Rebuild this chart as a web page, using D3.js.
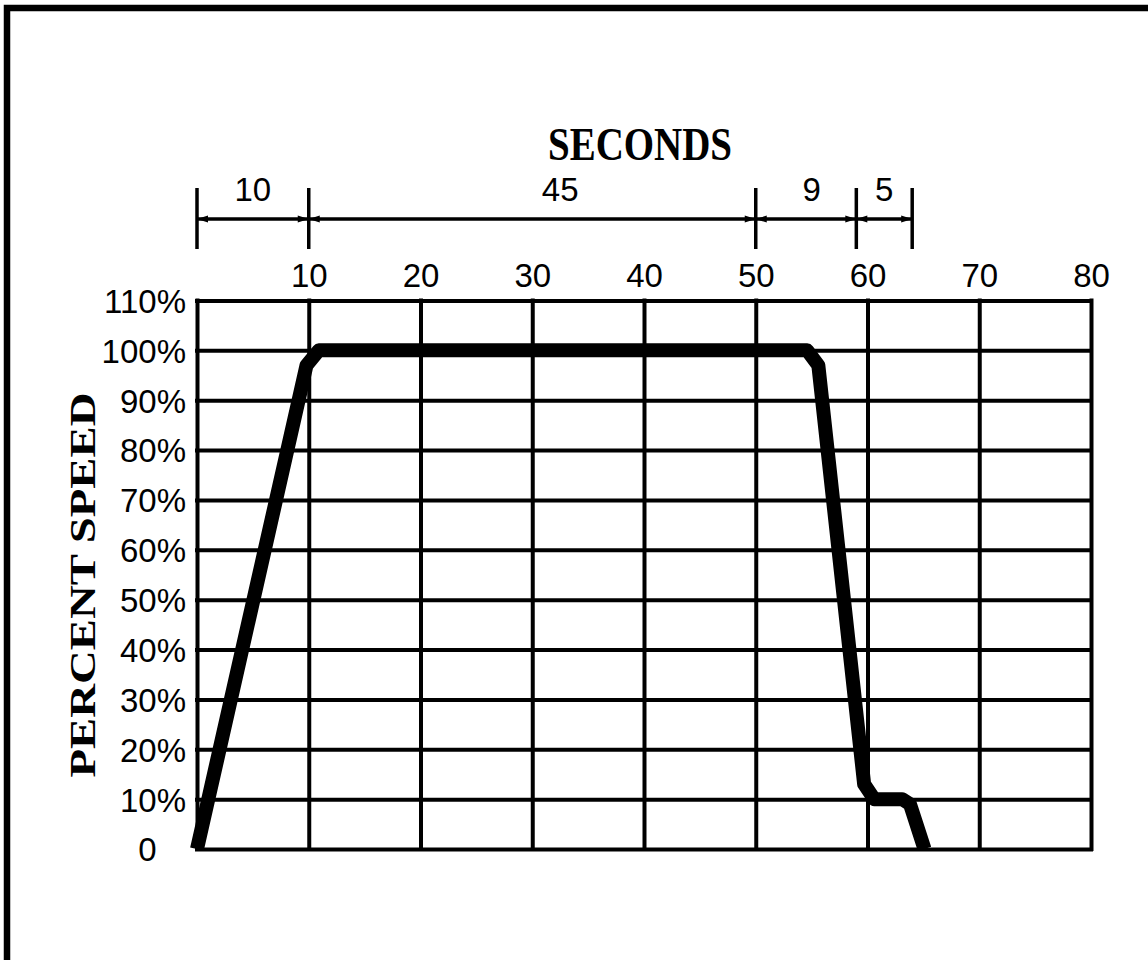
<!DOCTYPE html>
<html>
<head>
<meta charset="utf-8">
<script src="https://cdn.jsdelivr.net/npm/d3@7"></script>
<style>
body{margin:0;background:#fff;}
svg{display:block;}
</style>
</head>
<body>
<div id="chart"></div>
<script>
// speed profile
var time_s = [0, 9.8, 10.9, 54.6, 55.6, 59.7, 60.6, 63.1, 63.8, 65.1]
var speed_pct = [0, 97, 100, 100, 97, 13, 10, 10, 9, 0]

var x_ticks = [0, 10, 20, 30, 40, 50, 60, 70, 80]
var y_ticks = [0, 10, 20, 30, 40, 50, 60, 70, 80, 90, 100, 110]

// dimension line above the grid
var dim_breaks = [0, 10, 50, 59, 64]
var dim_labels = ["10", "45", "9", "5"]
var dim_label_at = [5, 32.5, 55, 61.5]

var W = 1148, H = 960
var svg = d3.select("#chart").append("svg")
	.attr("width", W)
	.attr("height", H)

var x = d3.scaleLinear().domain([0, 80]).range([197, 1091])
var y = d3.scaleLinear().domain([0, 110]).range([849, 300.5])
var plotW = x(80) - x(0), plotH = y(0) - y(110)

var tickFont = "'Liberation Sans', Arial, sans-serif"
var titleFont = "'Liberation Serif', 'Times New Roman', serif"

// frame (only top/left edges fall inside the picture)
svg.append("rect")
	.attr("x", 7).attr("y", 8)
	.attr("width", 1300).attr("height", 1100)
	.attr("fill", "none")
	.attr("stroke", "#000")
	.attr("stroke-width", 6.5)

function style_axis(g){
	g.select(".domain").remove()
	g.selectAll(".tick line")
		.attr("stroke", "#000")
		.attr("stroke-width", 4)
		.attr("stroke-linecap", "square")
	g.selectAll(".tick text")
		.attr("fill", "#000")
		.attr("font-family", tickFont)
		.attr("font-size", 33)
}

var yAxis = d3.axisLeft(y)
	.tickValues(y_ticks)
	.tickSize(-plotW)
	.tickPadding(11)
	.tickFormat(function(d){ return d === 0 ? "0" : d + "%" })
var gy = svg.append("g")
	.attr("transform", "translate(" + x(0) + ",0)")
	.call(yAxis)
	.call(style_axis)
gy.selectAll(".tick text").attr("dy", "0.36em")

// the "0" label sits under the 0 of "10%", not flush right
var probe = svg.append("text")
	.attr("font-family", tickFont).attr("font-size", 33).text("%")
var pctW = probe.node().getComputedTextLength()
probe.remove()
gy.selectAll(".tick text").filter(function(d){ return d === 0 })
	.attr("dx", -pctW)

var xAxis = d3.axisTop(x)
	.tickValues(x_ticks)
	.tickSize(-plotH)
	.tickPadding(14)
	.tickFormat(function(d){ return d === 0 ? "" : d })
svg.append("g")
	.attr("transform", "translate(0," + y(110) + ")")
	.call(xAxis)
	.call(style_axis)

// speed curve
svg.append("clipPath").attr("id", "plotclip")
	.append("rect")
	.attr("x", 0).attr("y", 0)
	.attr("width", W).attr("height", y(0) + 1)

var pts = time_s.map(function(t, i){ return [t, speed_pct[i]] })
var line = d3.line()
	.x(function(d){ return x(d[0]) })
	.y(function(d){ return y(d[1]) })
svg.append("path")
	.datum(pts)
	.attr("d", line)
	.attr("clip-path", "url(#plotclip)")
	.attr("fill", "none")
	.attr("stroke", "#000")
	.attr("stroke-width", 14)
	.attr("stroke-linejoin", "round")

// dimension line
var dimY = 219
var gd = svg.append("g")
gd.selectAll("line.ext")
	.data(dim_breaks)
	.enter().append("line")
	.attr("class", "ext")
	.attr("x1", function(d){ return x(d) })
	.attr("x2", function(d){ return x(d) })
	.attr("y1", 188).attr("y2", 249)
	.attr("stroke", "#000").attr("stroke-width", 3.5)
gd.append("line")
	.attr("x1", x(dim_breaks[0])).attr("x2", x(dim_breaks[dim_breaks.length - 1]))
	.attr("y1", dimY).attr("y2", dimY)
	.attr("stroke", "#000").attr("stroke-width", 3.5)

var arrows = []
for(var i = 0; i < dim_breaks.length - 1; i++){
	arrows.push({at: dim_breaks[i], dir: 1})
	arrows.push({at: dim_breaks[i + 1], dir: -1})
}
gd.selectAll("path.arrow")
	.data(arrows)
	.enter().append("path")
	.attr("class", "arrow")
	.attr("d", function(a){
		var tx = x(a.at)
		return "M" + tx + "," + dimY + "L" + (tx + a.dir * 11) + "," + (dimY - 3.5) +
			"L" + (tx + a.dir * 11) + "," + (dimY + 3.5) + "Z"
	})
	.attr("fill", "#000")

gd.selectAll("text")
	.data(dim_labels)
	.enter().append("text")
	.attr("x", function(d, i){ return x(dim_label_at[i]) })
	.attr("y", 200.5)
	.attr("text-anchor", "middle")
	.attr("font-family", tickFont)
	.attr("font-size", 33)
	.text(function(d){ return d })

// titles
svg.append("text")
	.attr("x", 640).attr("y", 160)
	.attr("text-anchor", "middle")
	.attr("font-family", titleFont)
	.attr("font-weight", "bold")
	.attr("font-size", 47)
	.attr("textLength", 184)
	.attr("lengthAdjust", "spacingAndGlyphs")
	.text("SECONDS")

svg.append("text")
	.attr("transform", "translate(95,585) rotate(-90)")
	.attr("text-anchor", "middle")
	.attr("font-family", titleFont)
	.attr("font-weight", "bold")
	.attr("font-size", 35)
	.attr("textLength", 385)
	.attr("lengthAdjust", "spacingAndGlyphs")
	.text("PERCENT SPEED")
</script>
</body>
</html>
